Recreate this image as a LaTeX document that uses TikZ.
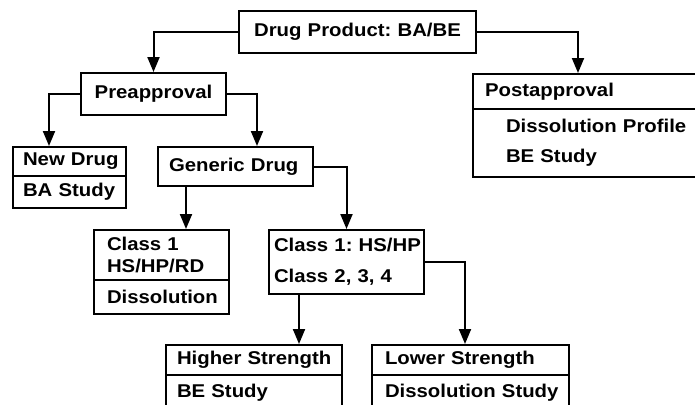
\documentclass[tikz,border=0pt]{standalone}
\usepackage{fontspec}
\setmainfont{Liberation Sans}[FakeStretch=1.1]
\usetikzlibrary{arrows.meta,calc}
\tikzset{
box/.style = {rectangle, draw=black, anchor=north west,
              inner xsep=#1, inner ysep=0pt, align=left,
              font=\fontsize{18.5}{23}\selectfont\bfseries},
box/.default = 11pt % space before the text
}

\begin{document}
\begin{tikzpicture}[x=1pt, y=-1pt, line width=2pt, >={Triangle[length=15pt, width=12pt]}]
    \clip (0,0) rectangle (695,404);

    \node[box, align=center, text width=215pt, minimum height=42pt] (prod) at (238,10) {Drug~Product:~BA/BE};
    \node[box, align=center, text width=123pt, minimum height=42pt] (pre) at (80,72) {Preapproval};

    \node[box=12pt, text width=236pt, minimum height=35pt] (post) at (472,73) {Postapproval};
    \node[box=33pt, text width=194pt, minimum height=68pt] (postStudy) at (472,108) {Dissolution~Profile\\[7pt]BE~Study};

    \node[box=10pt, text width=93pt, minimum height=29pt] (new) at (12,146) {New~Drug};
    \node[box=10pt, text width=93pt, minimum height=32pt] (newStudy) at (12,175) {BA~Study};

    \node[box, text width=133pt, minimum height=39pt] (gen) at (157,146) {Generic~Drug};

    \node[box=13pt, text width=109pt, minimum height=50pt] (cls1) at (93,229) {Class~1\\[-1pt]HS/HP/RD};
    \node[box=13pt, text width=109pt, minimum height=34pt] (cls1Study) at (93,279) {Dissolution};

    \node[box=5pt, text width=145pt, minimum height=64pt] (cls2) at (268,229) {Class~1:~HS/HP\\[8pt]Class~2,~3,~4};

    \node[box, text width=154pt, minimum height=30pt] (high) at (165,344) {Higher~Strength};
    \node[box, text width=154pt, text height=22pt, text depth=28pt] (highStudy) at (165,374) {BE~Study};

    \node[box=13pt, text width=171pt, minimum height=30pt] (low) at (371,344) {Lower~Strength};
    \node[box=13pt, text width=171pt, text height=22pt, text depth=28pt] (lowStudy) at (371,374) {Dissolution~Study};

    \draw[->] (prod.west) -| (pre.north);
    \draw[->] (prod.east) -| ($(post.north west)+(106,0)$);
    \draw[->] (pre.west) -| ($(new.north west)+(37,0)$);
    \draw[->] (pre.east) -| ($(gen.north west)+(100,0)$);
    \draw[->] ($(gen.south west)+(29,0)$) -- ($(cls1.north west)+(93,0)$);
    \draw[->] (gen.east) -| (cls2.north);
    \draw[->] ($(cls2.south west)+(31,0)$) -- ($(high.north west)+(134,0)$);
    \draw[->] (cls2.east) -| ($(low.north west)+(94,0)$);
\end{tikzpicture}
\end{document}
